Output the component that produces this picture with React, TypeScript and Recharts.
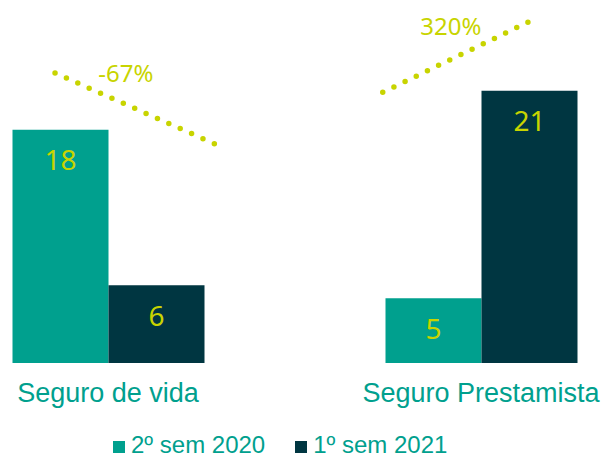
import React from 'react';
import { BarChart, Bar, XAxis, YAxis, LabelList, Legend, ReferenceLine, ReferenceDot } from 'recharts';

const categories = ['Seguro de vida', 'Seguro Prestamista'];
const sem2020 = [18, 5];
const sem2021 = [6, 21];
const seriesNames = ['2º sem 2020', '1º sem 2021'];
const changeLabels = ['-67%', '320%'];
// trend annotations, in data units (hidden numeric x axis 0..1 spanning both categories)
const trendStartX = [0.179, 0.6183];
const trendStartY = [22.37, 20.88];
const trendEndX = [0.3935, 0.8134];
const trendEndY = [16.89, 26.3];
const changeLabelX = [0.274, 0.7095];
const changeLabelY = [22.37, 25.92];
const dotPatterns = ['0 12.45', '0 12.4'];

const TEAL = '#00A08E';
const DARK = '#003641';
const LIME = '#C8D400';

const data = categories.map((name, i) => ({ name, a: sem2020[i], b: sem2021[i] }));

const BarValue = (props: any) => {
  const vb = props.viewBox || {};
  const x = props.x ?? vb.x;
  const y = props.y ?? vb.y;
  const width = props.width ?? vb.width;
  return (
    <text
      x={x + width / 2}
      y={y + 40.5}
      textAnchor="middle"
      fill={LIME}
      fontSize={28}
      fontFamily="'Noto Sans', 'Open Sans', sans-serif"
    >
      {props.value}
    </text>
  );
};

const LegendContent = () => {
  const colors = [TEAL, DARK];
  return (
    <div
      style={{
        display: 'flex',
        height: 20,
        width: 602,
        paddingLeft: 113,
        boxSizing: 'border-box',
        fontFamily: "'Liberation Sans', Arial, sans-serif",
        fontSize: 24,
        lineHeight: '20px',
        color: TEAL,
        whiteSpace: 'nowrap',
      }}
    >
      {seriesNames.map((n, i) => (
        <span key={n} style={{ marginRight: i === 0 ? 30 : 0 }}>
          <span
            style={{
              display: 'inline-block',
              width: 12,
              height: 12,
              background: colors[i],
              marginRight: 6,
              verticalAlign: 'baseline',
            }}
          />
          {n}
        </span>
      ))}
    </div>
  );
};

export default function App() {
  return (
    <div style={{ position: 'absolute', left: 0, top: 0, width: 602, height: 455, overflow: 'hidden', background: '#fff' }}>
      <BarChart
        width={602}
        height={455}
        data={data}
        margin={{ top: 0, right: -65.5, bottom: 12, left: -78.5 }}
        barGap={0}
        barSize={96}
      >
        <XAxis
          dataKey="name"
          tickLine={false}
          axisLine={false}
          interval={0}
          height={60}
          tickMargin={14}
          tick={{ fill: TEAL, fontSize: 27, fontFamily: "'Liberation Sans', Arial, sans-serif" }}
        />
        <XAxis xAxisId="ann" type="number" domain={[0, 1]} allowDataOverflow hide />
        <YAxis hide domain={[0, 28]} allowDataOverflow />
        <Legend
          verticalAlign="bottom"
          content={<LegendContent />}
          wrapperStyle={{ top: 434.5, left: 0, width: 602, height: 20 }}
        />
        <Bar dataKey="a" name={seriesNames[0]} fill={TEAL} isAnimationActive={false}>
          <LabelList dataKey="a" content={<BarValue />} />
        </Bar>
        <Bar dataKey="b" name={seriesNames[1]} fill={DARK} isAnimationActive={false}>
          <LabelList dataKey="b" content={<BarValue />} />
        </Bar>
        {changeLabels.map((lab, i) => (
          <ReferenceLine
            key={'l' + i}
            xAxisId="ann"
            ifOverflow="visible"
            segment={[
              { x: trendStartX[i], y: trendStartY[i] },
              { x: trendEndX[i], y: trendEndY[i] },
            ]}
            stroke={LIME}
            strokeWidth={5.5}
            strokeLinecap="round"
            strokeDasharray={dotPatterns[i]}
          />
        ))}
        {changeLabels.map((lab, i) => (
          <ReferenceDot
            key={'d' + i}
            xAxisId="ann"
            x={changeLabelX[i]}
            y={changeLabelY[i]}
            r={0}
            ifOverflow="visible"
            fill="none"
            stroke="none"
            label={{
              value: lab,
              position: 'center',
              fill: LIME,
              fontSize: 24,
              fontFamily: "'Noto Sans', 'Open Sans', sans-serif",
            }}
          />
        ))}
      </BarChart>
    </div>
  );
}
